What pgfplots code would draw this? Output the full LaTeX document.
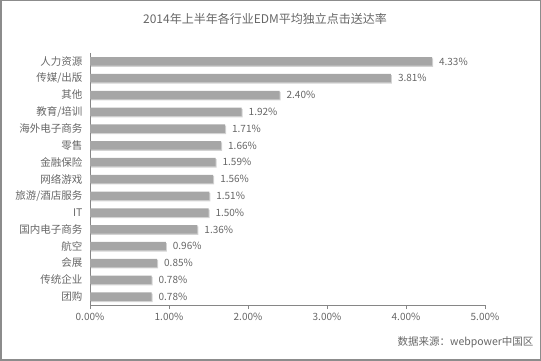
\documentclass[border=0pt]{standalone}
\usepackage{pgfplots}
\pgfplotsset{compat=1.18}
\usepackage{fontspec}
\setmainfont{Noto Sans CJK SC}
\usetikzlibrary{shadows}
\definecolor{txt}{HTML}{666666}
\definecolor{barc}{HTML}{A6A6A6}
\definecolor{axc}{HTML}{868686}
\definecolor{frame}{HTML}{8C8C8C}
\begin{document}
\begin{tikzpicture}[x=1pt,y=1pt]
\useasboundingbox (0,0) rectangle (541,361);
\draw[frame, line width=1.5pt] (0.75,0.75) rectangle (540.25,360.25);
\node[text=txt, font=\fontsize{12}{14}\selectfont] at (265,342) {2014年上半年各行业EDM平均独立点击送达率};
\node[text=txt, font=\fontsize{10.5}{12}\selectfont, anchor=east] at (537,19) {数据来源：webpower中国区};
\begin{axis}[
  at={(90pt,56pt)}, anchor=south west,
  scale only axis, width=395pt, height=252pt,
  xmin=0, xmax=5, ymin=-0.5, ymax=14.5,
  y dir=reverse,
  axis x line=bottom, axis y line=left,
  axis line style={-, axc},
  tick style={axc},
  tick align=outside,
  xtick={0,1,2,3,4,5},
  major tick length=4pt,
  xticklabel={\pgfmathprintnumber[fixed,fixed zerofill,precision=2]{\tick}\%},
  xticklabel style={text=txt, font=\fontsize{10}{11}\selectfont, yshift=-1pt},
  ytick={0,...,14},
  yticklabels={人力资源,传媒/出版,其他,教育/培训,海外电子商务,零售,金融保险,网络游戏,旅游/酒店服务,IT,国内电子商务,航空,会展,传统企业,团购},
  yticklabel style={text=txt, font=\fontsize{10.5}{12}\selectfont},
  ytick style={draw=none},
  minor ytick={-0.5,0.5,...,14.5},
  minor tick length=4pt,
  minor tick style={axc},
  /pgf/number format/assume math mode=true,
  clip=false,
]
\addplot[xbar, bar width=8.5pt, fill=barc, draw=none,
  drop shadow={shadow xshift=1pt, shadow yshift=-1.2pt, opacity=0.35},
  point meta=x,
  nodes near coords={\pgfmathprintnumber[fixed,fixed zerofill,precision=2]{\pgfplotspointmeta}\%},
  nodes near coords style={text=txt, font=\fontsize{10}{11}\selectfont, xshift=3.5pt},
] coordinates {
(4.33,0) (3.81,1) (2.40,2) (1.92,3) (1.71,4) (1.66,5) (1.59,6) (1.56,7)
(1.51,8) (1.50,9) (1.36,10) (0.96,11) (0.85,12) (0.78,13) (0.78,14)
};
\end{axis}
\end{tikzpicture}
\end{document}
